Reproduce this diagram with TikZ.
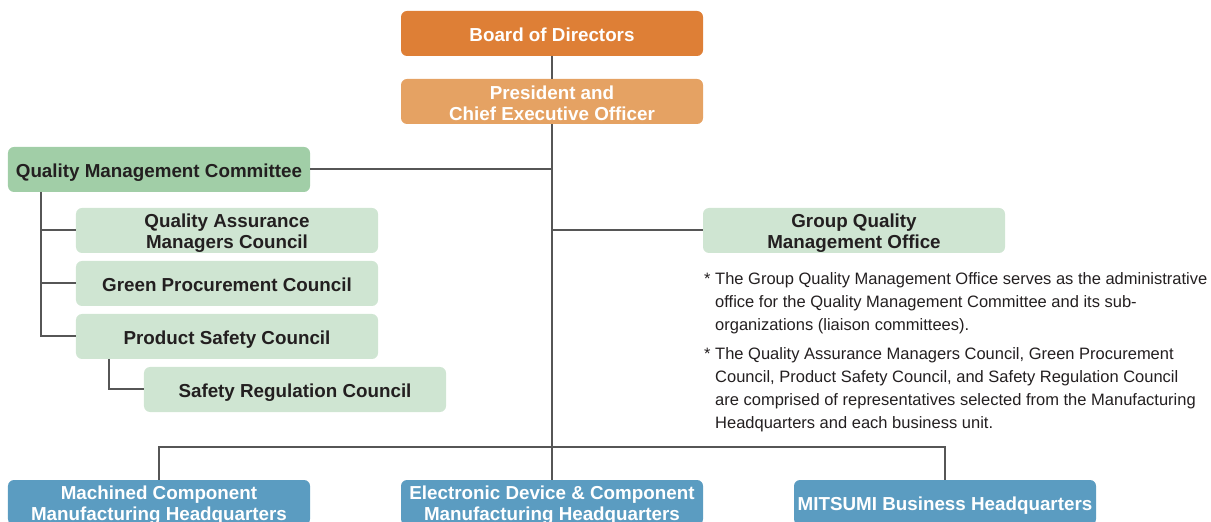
\documentclass[tikz,border=0pt]{standalone}
\usepackage{fontspec}
\setmainfont{Liberation Sans}
\definecolor{boardc}{HTML}{DE7F36}
\definecolor{presc}{HTML}{E5A263}
\definecolor{qmcc}{HTML}{A1CEA7}
\definecolor{lgc}{HTML}{CFE5D2}
\definecolor{bluec}{HTML}{5B9CC1}
\definecolor{linec}{HTML}{565656}
\definecolor{darkc}{HTML}{231F20}
\newcommand\bt[1]{\rule{0pt}{19bp}#1\rule[-2bp]{0pt}{0pt}}
\tikzset{
  box/.style={minimum width=302bp,minimum height=45bp,inner sep=0pt,rounded corners=6bp,align=center,
    font=\fontsize{18.8bp}{20.5bp}\selectfont\bfseries},
  orgbox/.style={box,fill=boardc,text=white},
  presbox/.style={box,fill=presc,text=white},
  qmcbox/.style={box,fill=qmcc,text=darkc},
  subbox/.style={box,fill=lgc,text=darkc},
  hqbox/.style={box,fill=bluec,text=white},
  conn/.style={draw=linec,line width=2bp},
  note/.style={anchor=north west,inner sep=0pt,align=left,text=darkc,font=\fontsize{16.5bp}{23bp}\selectfont}
}
\begin{document}
\begin{tikzpicture}[x=1bp,y=-1bp]
\useasboundingbox (0,0) rectangle (1211,522);
\node[orgbox] (bod) at (552,33.5) {\bt{Board of Directors}};
\node[presbox] (ceo) at (552,101.5) {\bt{President and\\Chief Executive Officer}};
\node[qmcbox] (qmc) at (159,169.5) {\bt{Quality Management Committee}};
\node[subbox] (qa) at (227,230.5) {\bt{Quality Assurance\\Managers Council}};
\node[subbox] (gp) at (227,283.5) {\bt{Green Procurement Council}};
\node[subbox] (ps) at (227,336.5) {\bt{Product Safety Council}};
\node[subbox] (sr) at (295,389.5) {\bt{Safety Regulation Council}};
\node[subbox] (gq) at (854,230.5) {\bt{Group Quality\\Management Office}};
\node[hqbox] (mc) at (159,502.5) {\bt{Machined Component\\Manufacturing Headquarters}};
\node[hqbox] (ed) at (552,502.5) {\bt{Electronic Device \& Component\\Manufacturing Headquarters}};
\node[hqbox] (mb) at (945,502.5) {\bt{MITSUMI Business Headquarters}};
\node[note] (n1) at (704,272) {*~The Group Quality Management Office serves as the administrative\\
\hphantom{*~}office for the Quality Management Committee and its sub-\\
\hphantom{*~}organizations (liaison committees).\\[6bp]
*~The Quality Assurance Managers Council, Green Procurement\\
\hphantom{*~}Council, Product Safety Council, and Safety Regulation Council\\
\hphantom{*~}are comprised of representatives selected from the Manufacturing\\
\hphantom{*~}Headquarters and each business unit.};
\coordinate (bus) at (552,447);
\coordinate (qx) at (41,192);
\coordinate (psb) at (109,359);
\draw[conn] (bod.south) -- (ceo.north);
\draw[conn] (ceo.south) -- (bus);
\draw[conn] (qmc.east) -- (qmc.east -| bus);
\draw[conn] (gq.west) -- (gq.west -| bus);
\draw[conn] (qx) |- (ps.west);
\draw[conn] (qa.west) -- (qa.west -| qx);
\draw[conn] (gp.west) -- (gp.west -| qx);
\draw[conn] (psb) |- (sr.west);
\draw[conn] (mc.north) |- (bus) -| (mb.north);
\draw[conn] (bus) -- (ed.north);
\end{tikzpicture}
\end{document}
